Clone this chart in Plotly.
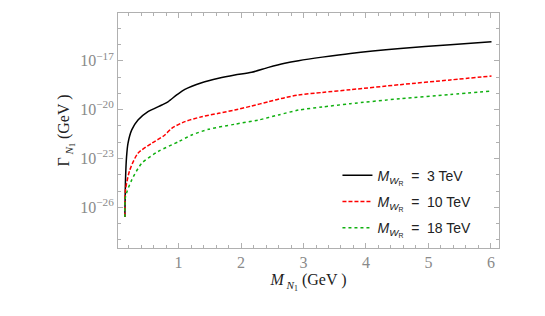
import plotly.graph_objects as go

# Heavy neutrino mass M_N1 (GeV) and log10 of decay width Gamma_N1 (GeV)
x_3tev = [0.14, 0.15, 0.167, 0.19, 0.25, 0.35, 0.51, 0.73, 0.83, 0.97, 1.10, 1.37, 1.64, 1.90,
          2.17, 2.44, 2.70, 2.92, 3.3, 3.75, 4.55, 5.35, 6.01]
logG_3tev = [-26.6, -24.32, -22.89, -22.07, -21.25, -20.64, -20.13, -19.72, -19.52, -19.1, -18.76,
             -18.35, -18.08, -17.88, -17.71, -17.41, -17.16, -17.0, -16.78, -16.55, -16.25, -16.02, -15.84]

x_10tev = [0.14, 0.15, 0.22, 0.35, 0.57, 0.78, 0.89, 1.10, 1.37, 1.64, 1.90, 2.17, 2.44, 2.70, 2.92,
           3.3, 3.75, 4.55, 5.35, 6.01]
logG_10tev = [-26.6, -24.94, -23.7, -22.68, -22.07, -21.56, -21.15, -20.74, -20.44, -20.23, -20.03,
              -19.78, -19.52, -19.27, -19.1, -18.95, -18.78, -18.47, -18.18, -17.94]

x_18tev = [0.14, 0.15, 0.25, 0.41, 0.67, 1.0, 1.21, 1.48, 1.90, 2.28, 2.60, 2.92, 3.3, 3.75, 4.55,
           5.35, 6.0]
logG_18tev = [-26.6, -25.35, -24.32, -23.3, -22.58, -21.97, -21.56, -21.21, -20.9, -20.64, -20.33,
              -20.03, -19.84, -19.64, -19.33, -19.07, -18.86]

series_names = ["<i>M</i><sub><i>W</i><sub>R</sub></sub>  =  3 TeV",
                "<i>M</i><sub><i>W</i><sub>R</sub></sub>  =  10 TeV",
                "<i>M</i><sub><i>W</i><sub>R</sub></sub>  =  18 TeV"]

ytick_exps = [-26, -23, -20, -17]
xtick_vals = [1, 2, 3, 4, 5, 6]

fig = go.Figure()
styles = [("black", "solid"), ("#ff0000", "4px,2px"), ("#10b010", "dot")]
for (xs, ls), name, (col, dash) in zip([(x_3tev, logG_3tev), (x_10tev, logG_10tev), (x_18tev, logG_18tev)],
                                       series_names, styles):
    fig.add_trace(go.Scatter(
        x=xs, y=[10 ** v for v in ls], mode="lines", name=name,
        line=dict(color=col, dash=dash, width=1.5, shape="spline", smoothing=0.7),
        legendgroup=name,
    ))

axis_col = "#b0b0b0"
tick_font = dict(family="Liberation Serif", size=16, color="#8a8a8a")
fig.update_xaxes(
    range=[0.03, 6.13], showgrid=False, zeroline=False, automargin=False,
    showline=True, linecolor=axis_col, linewidth=1, mirror="allticks",
    ticks="inside", ticklen=5, tickcolor=axis_col,
    tickvals=xtick_vals, ticktext=[str(v) for v in xtick_vals], tickfont=tick_font,
    minor=dict(dtick=0.2, tick0=0, ticks="inside", ticklen=3, tickcolor=axis_col),
    title=dict(text="<i>M</i><sub> <i>N</i><sub>1</sub></sub> (GeV )",
               font=dict(family="Liberation Serif", size=16, color="#222222"), standoff=0),
)
fig.update_yaxes(
    type="log", range=[-28.5, -14.07], showgrid=False, zeroline=False, automargin=False,
    showline=True, linecolor=axis_col, linewidth=1, mirror="allticks",
    ticks="inside", ticklen=5, tickcolor=axis_col,
    tickvals=[10 ** e for e in ytick_exps],
    ticktext=["10<sup>\u2212%d</sup>" % (-e) for e in ytick_exps], tickfont=tick_font,
    minor=dict(tickvals=[10 ** e for e in range(-28, -14)], ticks="inside", ticklen=3, tickcolor=axis_col),
    title=dict(text="\u0393<sub> <i>N</i><sub>1</sub></sub> (GeV )",
               font=dict(family="Liberation Serif", size=16, color="#222222"), standoff=6),
)

fig.update_layout(
    width=537, height=308,
    margin=dict(l=110, r=46, t=5, b=68),
    plot_bgcolor="white", paper_bgcolor="white",
    showlegend=True,
    legend=dict(x=0.576, y=0.376, xanchor="left", yanchor="top", bgcolor="rgba(0,0,0,0)",
                font=dict(family="Liberation Sans", size=14, color="#222222"),
                tracegroupgap=5),
)

fig.write_html("out.html")
